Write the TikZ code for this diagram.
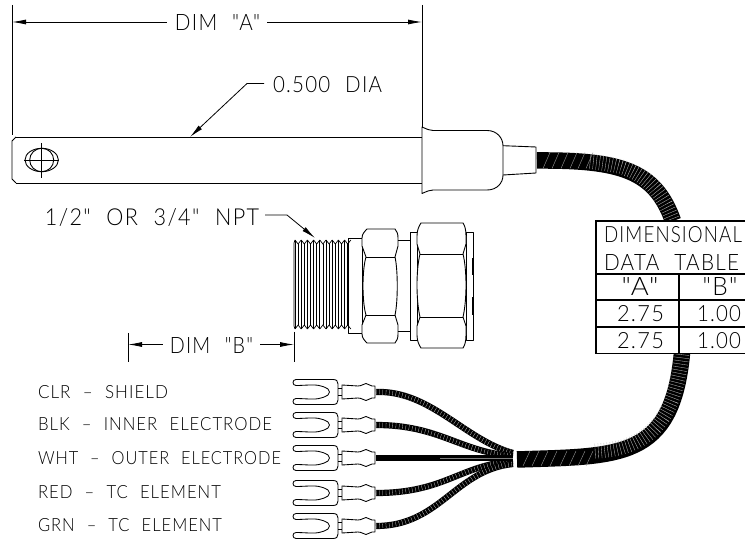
\documentclass[tikz,border=0pt]{standalone}
\usepackage{graphicx}
\usepackage{fontspec}
\newfontfamily\thinf[WordSpace=2.2,LetterSpace=6]{Lato Light}
\usetikzlibrary{arrows.meta}
\newcommand\fitt[3]{\resizebox{#1pt}{#2pt}{\thinf #3}}
\tikzset{
  ln/.style={line width=.9pt,black,line join=round},
  dimline/.style={line width=.8pt,black},
  dimarrow/.style={line width=.8pt,black,-{Latex[length=14pt,width=5pt]}},
  lab/.style={inner sep=0pt,outer sep=0pt,anchor=center},
  tline/.style={line width=1.5pt,black},
  hose/.style={line width=16.5pt,black,line cap=butt},
  hosehatch/.style={line width=15pt,gray!55,line cap=butt,dash pattern=on .35pt off 2.8pt},
  slant/.style={line width=.4pt,gray!80},
  wire/.style={line width=6.2pt,black,line cap=butt},
  wirehatch/.style={line width=5pt,gray!40,line cap=butt,dash pattern=on .3pt off 3pt},
  lugline/.style={line width=.85pt,line join=round},
  threadline/.style={line width=.7pt},
}
\begin{document}
\begin{tikzpicture}[x=1pt,y=-1pt]
\useasboundingbox (0,0) rectangle (745,540);
% upper cable
\path (537,160.5) coordinate (ca) (673,221) coordinate (cb);
\draw[hose] (ca) .. controls (620,160) and (655,170) .. (cb);
\draw[hosehatch] (590,161.6) .. controls (625,165) and (655,172) .. (cb);
\foreach \x in {543,552,561,570,578,586}
  \draw[slant] (\x,168.5) -- (\x+7,152.5);
% lower cable
\path (517,459.5) coordinate (cc) (682,353) coordinate (cd);
\draw[hose] (cc) .. controls (620,456) and (672,460) .. (cd);
\draw[hosehatch] (595,451) .. controls (640,449) and (674,430) .. (cd);
\foreach \x in {523,532,541,550,560,569,578,586}
  \draw[slant] (\x,466) -- (\x+7,451);
% probe
\draw[ln] (16,137) -- (422,137) (16,183) -- (422,183);
\draw[ln] (16,137) -- (12,141) -- (12,179) -- (16,183);
\draw[ln] (41.7,160) ellipse (16.7 and 11.7);
\draw[ln] (41.7,160) ellipse (12 and 11.7);
\draw[ln] (41.7,143) -- (41.7,178) (24,160) -- (59,160);
% boot
\draw[ln] (422,127) .. controls (427,129) and (429,130.5) .. (433,130.5) -- (487,130.5)
  .. controls (497,130.5) and (503,138) .. (503,146) -- (503,175)
  .. controls (503,183) and (497,190) .. (487,190) -- (433,190)
  .. controls (429,190) and (427,191.5) .. (422,193.5) -- cycle;
\draw[ln] (503,145.7) -- (536,147) -- (536,173) -- (503,175);
% dim A
\draw[dimline] (12,5) -- (12,135) (422,5) -- (422,127);
\node[lab] (dima) at (217.5,23) {\fitt{85}{16}{DIM "A"}};
\coordinate (al) at (12,22);
\coordinate (ar) at (422,22);
\draw[dimarrow] (dima.west)++(-8,-1) -- (al);
\draw[dimarrow] (dima.east)++(7,-1) -- (ar);
% 0.500 DIA
\node[lab] (dia) at (327.5,85) {\fitt{109}{16}{0.500 DIA}};
\coordinate (diatip) at (190,137);
\draw[dimarrow] (dia.west)++(-9,-1.5) -- ++(-17,0) -- (diatip);
% NPT
\node[lab] (npt) at (152,217) {\fitt{214}{17}{1/2" OR 3/4" NPT}};
\coordinate (npttip) at (315,238);
\draw[dimarrow] (npt.east)++(6,-2) -- ++(22,0) -- (npttip);
% thread
\foreach \k in {0,...,8} {
  \pgfmathsetmacro\xa{295+6.2*\k}
  \pgfmathsetmacro\xb{\xa+3.1}
  \pgfmathsetmacro\xc{\xa+6.2}
  \draw[threadline] (\xa,240) -- (\xa,329);
  \draw[threadline] (\xb,244) -- (\xb,325);
  \draw[threadline] (\xa,240) -- (\xb,244) -- (\xc,240);
  \draw[threadline] (\xa,329) -- (\xb,325) -- (\xc,329);
}
\draw[threadline] (295,240) -- (294,243) -- (294,326) -- (295,329);
% collar
\draw[ln] (348,238) rectangle (362,333);
% nut 1
\draw[ln,fill=white] (367,229) -- (395,229) .. controls (397,231) and (398,234) .. (398,238) -- (398,246)
  -- (395,257) .. controls (398,270) and (398,302) .. (395,315) -- (398,325) -- (398,334)
  .. controls (398,338) and (397,341) .. (395,343) -- (367,343)
  .. controls (365,341) and (362,338) .. (362,334) -- (362,325) -- (366,315)
  .. controls (362,302) and (362,270) .. (366,257) -- (362,246) -- (362,238)
  .. controls (362,234) and (365,231) .. (367,229) -- cycle;
\draw[ln] (366,257) -- (395,257) (366,315) -- (395,315);
% neck and washers
\draw[ln] (398,240) -- (410,240) (398,331) -- (410,331);
\draw[ln,fill=white] (410,232) rectangle (417,340);
\draw[ln,fill=white] (466,232) rectangle (473,340);
% nut 2
\draw[ln,fill=white] (421,223) -- (463,223) .. controls (465,226) and (466,230) .. (466,236) -- (466,244)
  -- (463,254) .. controls (467,270) and (467,300) .. (463,317) -- (466,326) -- (466,335)
  .. controls (466,341) and (465,345) .. (463,348) -- (421,348)
  .. controls (419,345) and (417,341) .. (417,335) -- (417,326) -- (420,317)
  .. controls (416,300) and (416,270) .. (420,254) -- (417,244) -- (417,236)
  .. controls (417,230) and (419,226) .. (421,223) -- cycle;
\draw[ln] (420,254) -- (463,254) (420,317) -- (463,317);
\draw[line width=2pt] (473,258) -- (473,275) (473,297) -- (473,315);
% dim B
\draw[dimline] (128,333) -- (128,362) (294,332) -- (294,362);
\node[lab] (dimb) at (211.5,345.5) {\fitt{83}{16}{DIM "B"}};
\coordinate (bl) at (128,344.5);
\coordinate (br) at (294,344.5);
\draw[dimarrow] (dimb.west)++(-7,-1) -- (bl);
\draw[dimarrow] (dimb.east)++(7,-1) -- (br);
% wire labels
\node[lab,anchor=west] (w1) at (38,392) {\fitt{130}{13}{CLR – SHIELD}};
\node[lab,anchor=west] (w2) at (38,424.5) {\fitt{234}{13}{BLK – INNER ELECTRODE}};
\node[lab,anchor=west] (w3) at (38,458) {\fitt{243}{13}{WHT – OUTER ELECTRODE}};
\node[lab,anchor=west] (w4) at (38,492.5) {\fitt{183}{13}{RED – TC ELEMENT}};
\node[lab,anchor=west] (w5) at (38,525.5) {\fitt{184}{13}{GRN – TC ELEMENT}};
% wires
\foreach \p in {
  {(376,392) .. controls (430,390) and (465,440) .. (513,453)},
  {(376,425) .. controls (440,425) and (460,452) .. (513,456)},
  {(376,493) .. controls (445,493) and (460,465) .. (513,461)},
  {(376,526) .. controls (440,526) and (455,470) .. (513,464)}} {
  \draw[wire] \p;
  \draw[wirehatch] \p;
}
\draw[line width=6.5pt,line cap=butt] (376,458) -- (513,458);
\draw[line width=.3pt,gray] (440,458) -- (513,458);
% lugs
\foreach \y in {392,425,458,493,526} {
\begin{scope}[shift={(0,\y)}]
\draw[lugline] (296,-12.5) -- (333,-12.5) .. controls (336.5,-12.5) and (338,-11) .. (338,-8) -- (338,8)
  .. controls (338,11) and (336.5,12.5) .. (333,12.5) -- (296,12.5) .. controls (292,12.5) and (292,6.5) .. (296,6.5)
  .. controls (305,6.5) and (315,8) .. (321,6) .. controls (325,5) and (326,4) .. (328,3)
  .. controls (330,1.5) and (330,-1.5) .. (328,-3) .. controls (326,-4) and (325,-5) .. (321,-6)
  .. controls (315,-8) and (305,-6.5) .. (296,-6.5) .. controls (292,-6.5) and (292,-12.5) .. (296,-12.5) -- cycle;
\draw[lugline] (338,-3.5) -- (342,-3.5) (338,3.5) -- (342,3.5);
\draw[lugline] (342,-7) -- (358,-6) .. controls (362,-6) and (364,-8.5) .. (366,-8.5)
  .. controls (368,-8.5) and (370,-6) .. (372,-6) -- (375,-6) -- (375,6) -- (372,6)
  .. controls (370,6) and (368,8.5) .. (366,8.5) .. controls (364,8.5) and (362,6) .. (358,6) -- (342,7) -- cycle;
\end{scope}
}
% table
\path[fill=white] (596,221) rectangle (745,353.5);
\draw[tline] (745,221) -- (596,221) -- (596,353.5) -- (745,353.5);
\draw[tline] (596,274) -- (745,274) (596,300) -- (745,300) (596,327) -- (745,327);
\draw[tline] (679,274) -- (679,353.5);
\node[lab,anchor=west] (t1) at (604,235) {\fitt{138}{16}{DIMENSIONAL}};
\node[lab,anchor=west] (t2) at (604,262) {\fitt{135}{16}{DATA TABLE}};
\node[lab] (h1) at (640,286) {\fitt{37}{18}{"A"}};
\node[lab] (h2) at (720,286) {\fitt{35}{18}{"B"}};
\node[lab] (a1) at (640.5,314) {\fitt{47}{16}{2.75}};
\node[lab] (b1) at (719,314) {\fitt{44}{16}{1.00}};
\node[lab] (a2) at (640.5,341) {\fitt{47}{16}{2.75}};
\node[lab] (b2) at (719,341) {\fitt{44}{16}{1.00}};
\end{tikzpicture}
\end{document}
